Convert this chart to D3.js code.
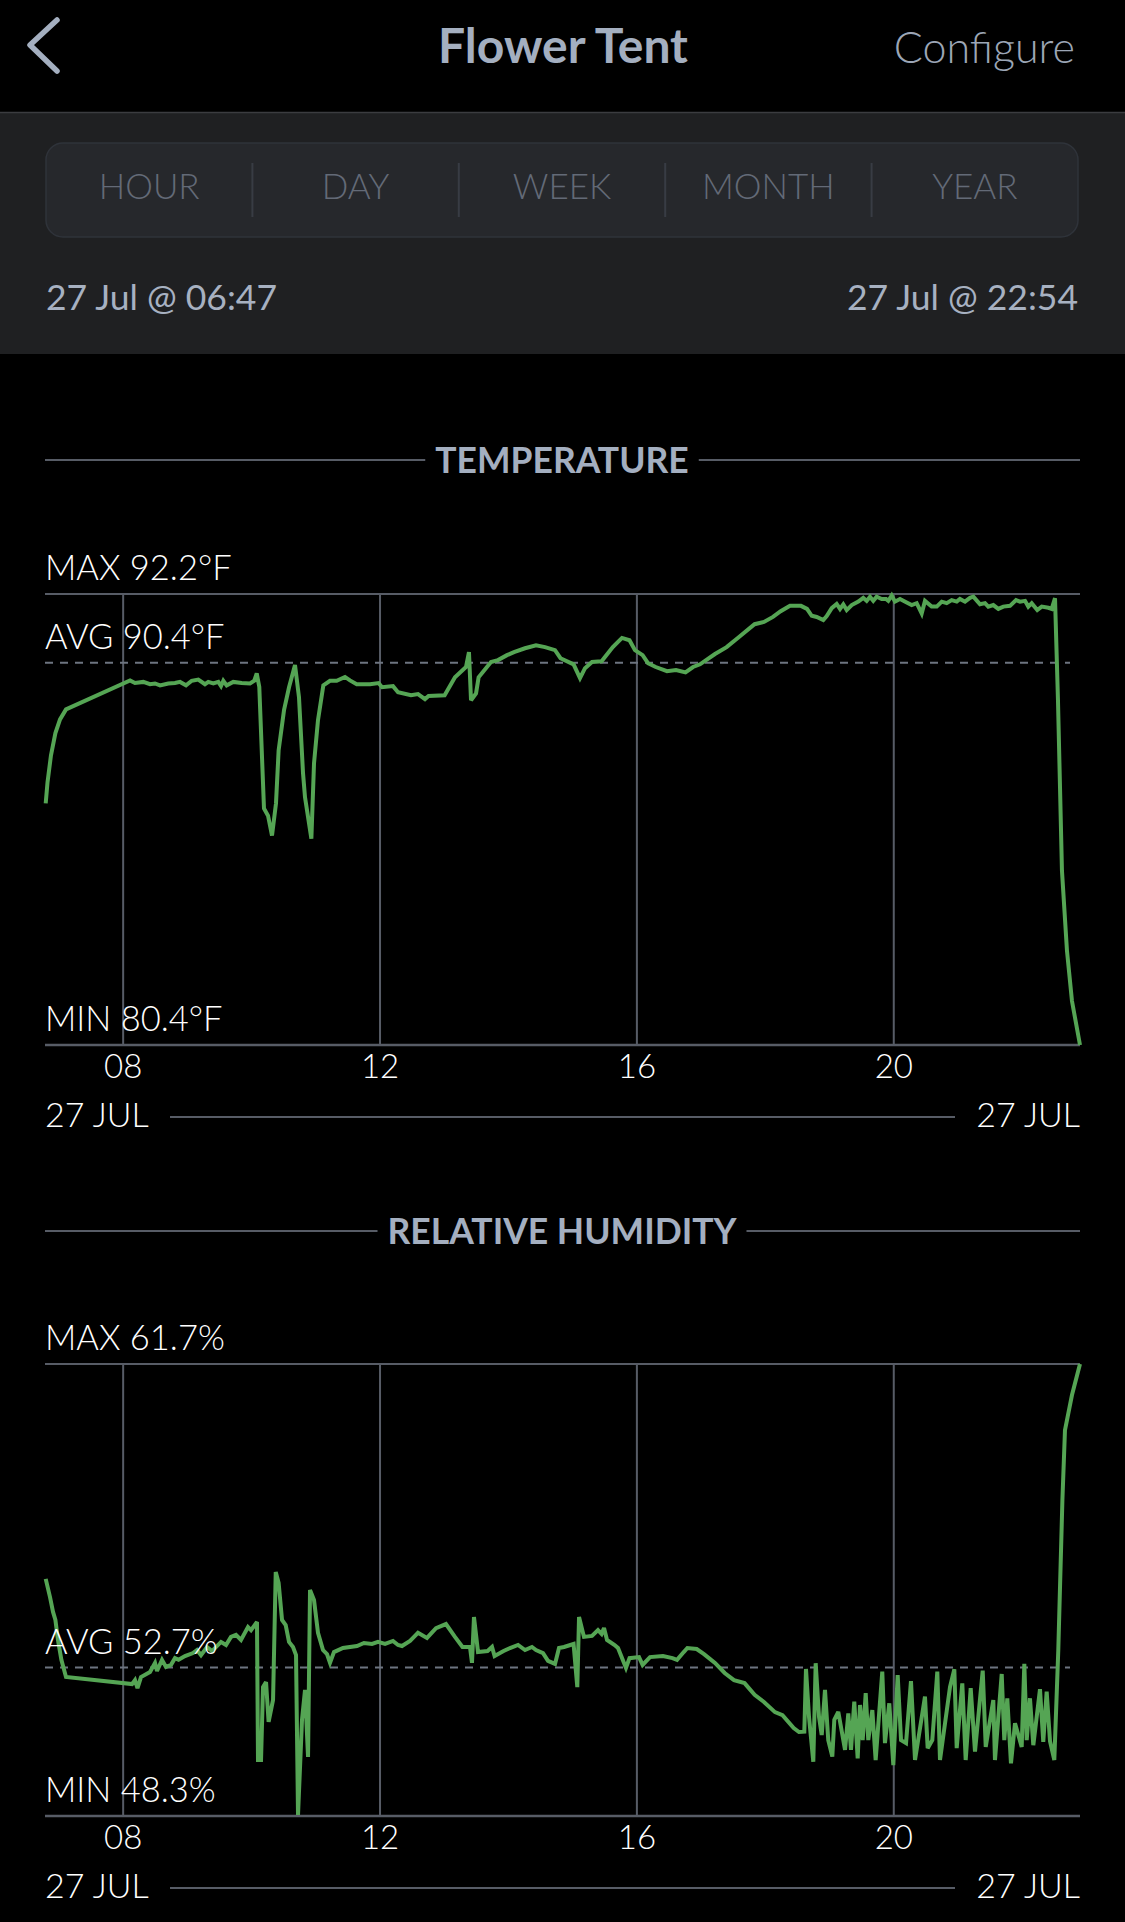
<!DOCTYPE html>
<html><head><meta charset="utf-8">
<script src="https://cdn.jsdelivr.net/npm/d3@7"></script>
<style>
html,body{margin:0;padding:0;background:#000;}
svg{display:block;}
</style></head>
<body>
<svg id="c" width="1125" height="1922"></svg>
<script>
// ---------- data ----------
const pageTitle = "Flower Tent";
const rightButton = "Configure";
const periods = ["HOUR","DAY","WEEK","MONTH","YEAR"];
const rangeStart = "27 Jul @ 06:47";
const rangeEnd = "27 Jul @ 22:54";
const domainHours = [6.783, 22.9];
const hourTicks = [8, 12, 16, 20];
const hourTickLabels = ["08", "12", "16", "20"];
const dayLabels = ["27 JUL", "27 JUL"];

const tempTitle = "TEMPERATURE";
const tempStats = {max: 92.2, avg: 90.4, min: 80.4, unit: "°F"};
const tempSeries = [
[6.794,86.72],[6.822,87.27],[6.876,87.98],[6.945,88.56],[7.017,88.92],[7.110,89.18],
[8.107,89.94],[8.184,89.87],[8.314,89.90],[8.418,89.84],[8.496,89.86],[8.574,89.81],
[8.703,89.86],[8.807,89.87],[8.885,89.90],[8.979,89.81],[9.067,89.93],[9.170,89.96],
[9.274,89.84],[9.326,89.90],[9.404,89.86],[9.482,89.90],[9.524,89.79],[9.560,89.93],
[9.612,89.81],[9.715,89.90],[9.846,89.87],[9.975,89.86],[10.042,89.93],[10.080,90.12],
[10.120,89.77],[10.193,86.59],[10.256,86.40],[10.318,85.88],[10.380,86.72],[10.421,88.11],
[10.505,89.16],[10.583,89.76],[10.676,90.34],[10.738,89.50],[10.801,87.51],[10.832,86.88],
[10.931,85.80],[10.972,87.77],[11.034,88.90],[11.117,89.81],[11.221,89.93],[11.325,89.93],
[11.454,90.03],[11.532,89.94],[11.637,89.84],[11.844,89.84],[11.978,89.87],[12.031,89.76],
[12.202,89.79],[12.280,89.63],[12.482,89.55],[12.592,89.58],[12.700,89.45],[12.756,89.53],
[13.006,89.55],[13.167,90.02],[13.339,90.29],[13.385,90.68],[13.417,89.42],[13.495,89.60],
[13.535,90.02],[13.728,90.42],[13.837,90.47],[13.977,90.60],[14.086,90.68],[14.258,90.78],
[14.429,90.86],[14.569,90.81],[14.725,90.73],[14.810,90.52],[15.014,90.36],[15.114,90.00],
[15.192,90.26],[15.301,90.42],[15.450,90.44],[15.625,90.81],[15.768,91.05],[15.885,90.99],
[15.970,90.73],[16.089,90.60],[16.173,90.39],[16.293,90.29],[16.469,90.18],[16.609,90.21],
[16.757,90.15],[16.874,90.29],[16.983,90.36],[17.216,90.63],[17.397,90.81],[17.571,91.05],
[17.833,91.41],[17.979,91.47],[18.119,91.60],[18.239,91.75],[18.384,91.89],[18.555,91.89],
[18.649,91.81],[18.722,91.63],[18.800,91.60],[18.903,91.52],[18.956,91.62],[19.034,91.83],
[19.111,91.94],[19.163,91.81],[19.214,91.93],[19.267,91.78],[19.345,91.91],[19.448,92.00],
[19.525,92.10],[19.578,92.02],[19.630,92.13],[19.681,92.02],[19.734,92.13],[19.812,92.07],
[19.879,92.07],[19.915,92.02],[19.968,92.16],[20.019,92.00],[20.097,92.07],[20.201,91.98],
[20.279,91.91],[20.357,91.96],[20.435,91.69],[20.486,92.02],[20.590,91.87],[20.669,91.87],
[20.747,92.00],[20.824,91.96],[20.902,92.04],[20.980,92.00],[21.031,92.07],[21.109,92.00],
[21.187,92.10],[21.239,92.13],[21.343,91.93],[21.421,91.96],[21.472,91.87],[21.550,91.91],
[21.628,91.81],[21.706,91.87],[21.810,91.89],[21.904,92.04],[21.966,92.00],[22.044,92.02],
[22.095,91.87],[22.148,91.96],[22.235,91.78],[22.304,91.87],[22.407,91.84],[22.459,91.81],
[22.511,92.09],[22.557,89.42],[22.619,84.96],[22.697,82.87],[22.775,81.55],[22.900,80.40]
];

const humTitle = "RELATIVE HUMIDITY";
const humStats = {max: 61.7, avg: 52.7, min: 48.3, unit: "%"};
const humSeries = [
[6.794,55.33],[6.861,54.79],[6.908,54.35],[6.945,54.11],[6.985,53.52],[7.038,52.93],
[7.110,52.42],[8.138,52.21],[8.184,52.33],[8.223,52.09],[8.278,52.42],[8.418,52.57],
[8.496,52.84],[8.527,52.60],[8.605,52.93],[8.667,52.72],[8.745,52.78],[8.807,52.98],
[8.863,52.93],[8.963,53.04],[9.088,53.13],[9.150,53.22],[9.212,53.07],[9.306,53.31],
[9.384,53.19],[9.524,53.46],[9.602,53.37],[9.679,53.61],[9.757,53.67],[9.835,53.52],
[9.944,53.90],[9.991,53.81],[10.084,54.05],[10.100,49.96],[10.147,49.96],[10.178,52.12],
[10.225,52.27],[10.265,51.09],[10.334,51.74],[10.376,55.53],[10.421,55.21],[10.474,54.11],
[10.531,53.96],[10.583,53.46],[10.645,53.31],[10.692,53.07],[10.723,48.33],[10.785,51.15],
[10.832,52.04],[10.879,50.05],[10.910,55.00],[10.972,54.70],[11.034,53.73],[11.112,53.22],
[11.174,53.10],[11.221,52.84],[11.283,53.16],[11.423,53.28],[11.641,53.34],[11.750,53.43],
[11.875,53.40],[11.969,53.46],[12.078,53.40],[12.202,53.49],[12.280,53.37],[12.342,53.34],
[12.467,53.49],[12.529,53.61],[12.591,53.73],[12.731,53.58],[12.872,53.87],[13.027,53.99],
[13.167,53.61],[13.284,53.31],[13.401,53.31],[13.432,52.84],[13.463,54.20],[13.526,53.16],
[13.674,53.19],[13.744,53.31],[13.784,53.04],[13.924,53.19],[14.024,53.28],[14.149,53.37],
[14.258,53.22],[14.366,53.31],[14.429,53.22],[14.538,53.13],[14.616,52.90],[14.725,52.81],
[14.787,53.28],[14.865,53.31],[15.014,53.40],[15.072,52.12],[15.099,54.20],[15.176,53.61],
[15.301,53.64],[15.394,53.81],[15.450,53.70],[15.488,53.87],[15.535,53.52],[15.653,53.37],
[15.706,53.28],[15.830,52.69],[15.885,52.98],[16.033,53.01],[16.089,52.78],[16.204,53.01],
[16.406,53.04],[16.554,52.98],[16.625,52.93],[16.729,53.16],[16.786,53.28],[16.931,53.25],
[17.045,53.10],[17.216,52.84],[17.367,52.54],[17.512,52.33],[17.676,52.24],[17.833,51.89],
[17.979,51.68],[18.150,51.38],[18.267,51.29],[18.442,50.91],[18.524,50.79],[18.607,50.80],
[18.633,52.66],[18.680,51.24],[18.747,49.91],[18.784,52.83],[18.836,51.24],[18.878,50.70],
[18.929,52.04],[18.980,50.55],[19.043,50.06],[19.074,51.15],[19.136,51.39],[19.241,50.26],
[19.292,51.34],[19.334,50.26],[19.385,51.69],[19.438,50.01],[19.474,51.59],[19.516,50.55],
[19.563,51.94],[19.603,50.55],[19.666,51.44],[19.718,49.96],[19.821,52.58],[19.863,50.46],
[19.930,51.64],[19.993,49.81],[20.061,52.48],[20.113,50.55],[20.191,50.46],[20.268,52.30],
[20.331,49.96],[20.486,51.84],[20.528,50.31],[20.600,50.55],[20.678,52.58],[20.720,49.96],
[20.876,52.13],[20.943,52.65],[20.980,50.31],[21.067,52.23],[21.120,49.96],[21.198,52.09],
[21.265,50.21],[21.385,52.61],[21.432,50.35],[21.550,51.74],[21.576,49.96],[21.681,52.51],
[21.721,50.55],[21.768,51.79],[21.825,49.86],[21.888,51.05],[21.992,50.35],[22.033,52.81],
[22.070,50.55],[22.121,51.79],[22.173,50.40],[22.277,52.06],[22.328,50.50],[22.381,51.99],
[22.433,50.52],[22.500,49.96],[22.562,53.22],[22.626,57.67],[22.666,59.74],[22.775,60.78],
[22.900,61.70]
];

// ---------- styles ----------
const W = 1125;
const L = 45, R = 1080;
const slate = "#a4afc0";
const greyLine = "#575c66";
const green = "#55a554";
const lightFont = "Lato, 'Open Sans', sans-serif";
const svg = d3.select("#c");

svg.append("rect").attr("width", W).attr("height", 1922).attr("fill", "#000");

// ---------- header ----------
svg.append("path")
  .attr("d", d3.line()([[57,20],[30,45],[57,71]]))
  .attr("fill", "none").attr("stroke", slate).attr("stroke-width", 5.5)
  .attr("stroke-linecap", "round").attr("stroke-linejoin", "round");
svg.append("text").text(pageTitle)
  .attr("x", 563).attr("y", 63).attr("text-anchor", "middle")
  .attr("fill", slate).attr("font-family", "Lato, sans-serif").attr("font-weight", 700)
  .attr("font-size", 48);
svg.append("text").text(rightButton)
  .attr("x", 1075).attr("y", 63).attr("text-anchor", "end")
  .attr("fill", "#9ca6b6").attr("font-family", lightFont).attr("font-weight", 300)
  .attr("font-size", 43);

svg.append("rect").attr("x", 0).attr("y", 112).attr("width", W).attr("height", 242).attr("fill", "#1f2022");
svg.append("line").attr("x1", 0).attr("x2", W).attr("y1", 112.5).attr("y2", 112.5)
  .attr("stroke", "#3b3c40").attr("stroke-width", 1.5);

// segmented control
const segX = d3.scaleBand().domain(periods).range([46, 1078]);
svg.append("rect").attr("x", 46).attr("y", 143).attr("width", 1032).attr("height", 94)
  .attr("rx", 17).attr("fill", "#26282c").attr("stroke", "#2f333a").attr("stroke-width", 1.5);
svg.selectAll("line.seg").data(periods.slice(1)).join("line")
  .attr("x1", d => segX(d)).attr("x2", d => segX(d))
  .attr("y1", 163).attr("y2", 217).attr("stroke", "#383c44").attr("stroke-width", 2);
svg.selectAll("text.seg").data(periods).join("text")
  .text(d => d)
  .attr("x", d => segX(d) + segX.bandwidth() / 2).attr("y", 199)
  .attr("text-anchor", "middle").attr("fill", "#636a77")
  .attr("font-family", lightFont).attr("font-weight", 300).attr("font-size", 35);

svg.append("text").text(rangeStart).attr("x", 46).attr("y", 310)
  .attr("fill", "#a7b1c1").attr("font-family", lightFont).attr("font-weight", 400).attr("font-size", 35.5);
svg.append("text").text(rangeEnd).attr("x", 1078).attr("y", 310).attr("text-anchor", "end")
  .attr("fill", "#a7b1c1").attr("font-family", lightFont).attr("font-weight", 400).attr("font-size", 35.5);

// ---------- chart builder ----------
const x = d3.scaleLinear().domain(domainHours).range([L, R]);

function drawChart(cfg) {
  const g = svg.append("g");
  const y = d3.scaleLinear().domain([cfg.stats.min, cfg.stats.max]).range([cfg.bottom, cfg.top]);

  // section title with rules
  const t = g.append("text").text(cfg.title)
    .attr("x", 562).attr("y", cfg.titleY + 13).attr("text-anchor", "middle")
    .attr("fill", slate).attr("font-family", "Lato, sans-serif").attr("font-weight", 700)
    .attr("font-size", 35.5);
  const tw = t.node().getComputedTextLength();
  g.append("line").attr("x1", L).attr("x2", 562 - tw / 2 - 10)
    .attr("y1", cfg.titleY).attr("y2", cfg.titleY).attr("stroke", greyLine).attr("stroke-width", 2);
  g.append("line").attr("x1", 562 + tw / 2 + 10).attr("x2", R)
    .attr("y1", cfg.titleY).attr("y2", cfg.titleY).attr("stroke", greyLine).attr("stroke-width", 2);

  // frame lines
  g.append("line").attr("x1", L).attr("x2", R).attr("y1", y(cfg.stats.max)).attr("y2", y(cfg.stats.max))
    .attr("stroke", greyLine).attr("stroke-width", 2);
  g.append("line").attr("x1", L).attr("x2", R).attr("y1", y(cfg.stats.min)).attr("y2", y(cfg.stats.min))
    .attr("stroke", greyLine).attr("stroke-width", 2.5);
  g.selectAll("line.grid").data(hourTicks).join("line")
    .attr("x1", d => x(d)).attr("x2", d => x(d))
    .attr("y1", y(cfg.stats.max)).attr("y2", y(cfg.stats.min))
    .attr("stroke", greyLine).attr("stroke-width", 2);
  g.append("line").attr("x1", L).attr("x2", R - 10).attr("y1", y(cfg.stats.avg)).attr("y2", y(cfg.stats.avg))
    .attr("stroke", "#6d7480").attr("stroke-width", 2).attr("stroke-dasharray", "8,7");

  // series
  g.append("path").datum(cfg.series)
    .attr("d", d3.line().x(d => x(d[0])).y(d => y(d[1])))
    .attr("fill", "none").attr("stroke", green).attr("stroke-width", 4)
    .attr("stroke-linejoin", "miter").attr("stroke-miterlimit", 3);

  // stat labels
  const fmt = v => v.toFixed(1) + cfg.stats.unit;
  const lab = [["MAX", cfg.stats.max], ["AVG", cfg.stats.avg], ["MIN", cfg.stats.min]];
  g.selectAll("text.stat").data(lab).join("text")
    .text(d => d[0] + " " + fmt(d[1]))
    .attr("x", L).attr("y", d => y(d[1]) - 14)
    .attr("fill", "#fff").attr("font-family", lightFont).attr("font-weight", 300).attr("font-size", 34.5);

  // hour tick labels
  g.selectAll("text.tick").data(hourTicks).join("text")
    .text((d, i) => hourTickLabels[i])
    .attr("x", d => x(d)).attr("y", y(cfg.stats.min) + 33).attr("text-anchor", "middle")
    .attr("fill", "#fff").attr("font-family", lightFont).attr("font-weight", 300).attr("font-size", 33);

  // day labels
  const dy = y(cfg.stats.min) + 82;
  g.append("text").text(dayLabels[0]).attr("x", L).attr("y", dy)
    .attr("fill", "#fff").attr("font-family", lightFont).attr("font-weight", 300).attr("font-size", 34);
  g.append("text").text(dayLabels[1]).attr("x", R).attr("y", dy).attr("text-anchor", "end")
    .attr("fill", "#fff").attr("font-family", lightFont).attr("font-weight", 300).attr("font-size", 34);
  g.append("line").attr("x1", 170).attr("x2", 955).attr("y1", dy - 10).attr("y2", dy - 10)
    .attr("stroke", greyLine).attr("stroke-width", 2);
}

drawChart({title: tempTitle, titleY: 460, top: 594, bottom: 1045, stats: tempStats, series: tempSeries});
drawChart({title: humTitle, titleY: 1231, top: 1364, bottom: 1816, stats: humStats, series: humSeries});
</script>
</body></html>
